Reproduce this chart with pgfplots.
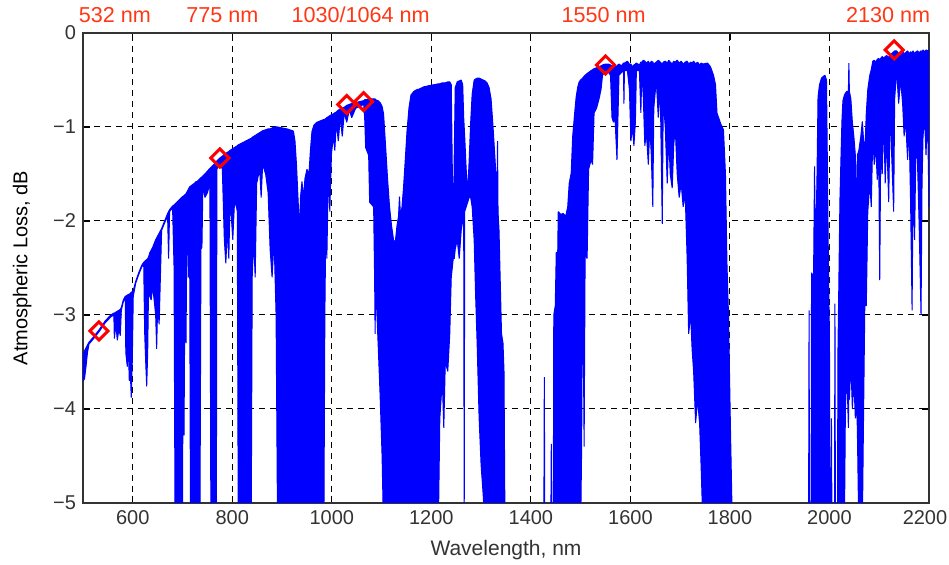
\documentclass[border=0pt]{standalone}
\usepackage{fontspec}
\setmainfont{Liberation Sans}
\usepackage{pgfplots}
\usepackage{pgfplotstable}
\pgfplotsset{compat=1.18}
\usepgfplotslibrary{fillbetween}

\definecolor{specblue}{RGB}{0,0,255}
\definecolor{lblred}{RGB}{255,55,20}
\definecolor{axgray}{RGB}{51,51,51}

% x = wavelength (nm), t = upper edge of the trace, l = lower edge (dB)
\pgfplotstableread{
x t l
500 -3.42 -3.70
503 -3.38 -3.68
506 -3.35 -3.55
509 -3.32 -3.40
512 -3.29 -3.31
520 -3.24 -3.26
532 -3.16 -3.18
545 -3.06 -3.08
556 -3.00 -3.02
562 -2.98 -3.00
563 -2.98 -3.25
566 -2.97 -3.10
569 -2.96 -3.27
572 -2.95 -3.15
575 -2.94 -3.22
577 -2.92 -2.95
581 -2.84 -2.86
585 -2.80 -2.82
586 -2.80 -3.40
589 -2.79 -3.55
591 -2.78 -3.30
593 -2.78 -3.70
595 -2.77 -3.60
597 -2.76 -3.88
599 -2.75 -3.50
601 -2.74 -2.80
606 -2.64 -2.66
612 -2.55 -2.57
618 -2.47 -2.49
622 -2.44 -2.46
624 -2.43 -3.20
626 -2.42 -3.50
628 -2.41 -3.76
630 -2.40 -3.40
632 -2.38 -2.60
634 -2.34 -2.80
637 -2.31 -2.84
640 -2.28 -2.70
643 -2.24 -2.84
646 -2.20 -3.00
648 -2.18 -3.36
650 -2.16 -2.90
653 -2.13 -3.10
656 -2.10 -2.50
658 -2.08 -2.10
664 -2.00 -2.02
670 -1.92 -1.95
672 -1.90 -2.40
674 -1.88 -1.90
680 -1.84 -1.86
683 -1.83 -2.50
685 -1.82 -5.30
700 -1.74 -5.30
701 -1.74 -3.20
703 -1.73 -4.28
705 -1.72 -2.50
707 -1.71 -3.30
709 -1.69 -1.90
712 -1.66 -2.60
714 -1.64 -1.70
716 -1.63 -5.30
726 -1.59 -5.30
727 -1.58 -4.00
729 -1.58 -5.30
735 -1.55 -5.30
737 -1.54 -2.30
739 -1.53 -2.28
741 -1.52 -1.60
745 -1.50 -1.75
750 -1.47 -1.70
755 -1.44 -1.60
757 -1.43 -5.30
768 -1.37 -5.30
769 -1.36 -1.45
775 -1.33 -1.38
780 -1.31 -1.45
784 -1.29 -2.20
787 -1.28 -2.45
790 -1.27 -2.10
793 -1.26 -2.40
795 -1.25 -1.90
798 -1.24 -1.95
801 -1.23 -2.20
804 -1.22 -1.85
807 -1.21 -1.80
810 -1.20 -1.90
812 -1.19 -5.30
838 -1.12 -5.30
840 -1.11 -2.60
843 -1.10 -2.20
846 -1.09 -2.60
849 -1.08 -1.60
855 -1.06 -1.45
858 -1.05 -1.75
861 -1.04 -1.40
867 -1.03 -1.50
872 -1.02 -1.70
876 -1.02 -2.30
880 -1.01 -2.60
884 -1.00 -2.20
888 -1.00 -3.00
891 -1.00 -5.30
910 -1.02 -5.30
921 -1.04 -5.30
922 -1.04 -3.40
923 -1.05 -5.30
926 -1.15 -5.30
929 -1.40 -5.30
932 -1.75 -5.30
935 -2.10 -5.30
937 -1.75 -5.30
940 -1.58 -5.30
943 -1.75 -5.30
946 -1.55 -5.30
950 -1.45 -5.30
954 -1.50 -5.30
957 -1.25 -5.30
960 -1.05 -5.30
964 -0.98 -5.30
970 -0.95 -5.30
984 -0.92 -5.30
986 -0.92 -3.00
988 -0.91 -2.00
990 -0.90 -2.40
993 -0.89 -1.50
996 -0.88 -1.90
999 -0.87 -1.30
1003 -0.86 -1.10
1006 -0.85 -1.25
1009 -0.84 -0.95
1013 -0.82 -1.15
1017 -0.81 -0.90
1021 -0.80 -1.10
1025 -0.79 -0.85
1030 -0.77 -0.95
1035 -0.76 -0.82
1040 -0.75 -0.90
1048 -0.74 -0.80
1056 -0.73 -0.78
1064 -0.72 -0.76
1066 -0.71 -0.90
1068 -0.71 -1.22
1074 -0.71 -1.30
1076 -0.70 -1.80
1084 -0.70 -1.85
1086 -0.70 -2.60
1087 -0.70 -3.20
1088 -0.71 -2.65
1093 -0.72 -3.30
1097 -0.74 -3.85
1101 -0.78 -4.50
1104 -0.86 -5.30
1108 -1.20 -5.30
1112 -1.55 -5.30
1116 -1.85 -5.30
1120 -2.05 -5.30
1124 -2.20 -5.30
1126 -2.22 -5.30
1127 -2.22 -4.00
1128 -2.20 -5.30
1131 -2.05 -5.30
1134 -1.95 -5.30
1136 -1.74 -5.30
1138 -1.95 -5.30
1141 -1.85 -5.30
1144 -1.65 -5.30
1147 -1.40 -5.30
1151 -1.05 -5.30
1155 -0.80 -5.30
1159 -0.66 -5.30
1165 -0.62 -5.30
1172 -0.60 -5.30
1173 -0.60 -3.90
1174 -0.60 -5.30
1186 -0.57 -5.30
1187 -0.57 -3.60
1188 -0.57 -5.30
1195 -0.56 -5.30
1196 -0.56 -3.40
1197 -0.56 -5.30
1205 -0.55 -5.30
1206 -0.55 -3.90
1207 -0.55 -5.30
1214 -0.54 -5.30
1217 -0.54 -4.10
1222 -0.53 -3.70
1225 -0.53 -4.20
1228 -0.53 -3.50
1233 -0.52 -3.60
1237 -0.52 -3.20
1240 -0.55 -2.60
1242 -1.40 -2.50
1244 -2.20 -2.40
1246 -1.30 -2.40
1248 -0.58 -2.30
1252 -0.52 -2.20
1256 -0.51 -2.40
1260 -0.50 -2.10
1263 -0.55 -2.00
1265 -0.90 -2.00
1266 -1.00 -5.30
1267 -1.10 -1.90
1270 -1.45 -1.85
1273 -1.70 -1.80
1276 -1.35 -1.75
1279 -0.95 -1.75
1282 -0.65 -1.85
1286 -0.50 -2.20
1289 -0.49 -2.80
1292 -0.48 -3.30
1296 -0.48 -4.10
1300 -0.49 -4.60
1304 -0.50 -4.90
1308 -0.51 -5.30
1312 -0.53 -5.30
1316 -0.58 -5.30
1320 -0.70 -5.30
1324 -1.00 -5.30
1328 -1.35 -5.30
1332 -1.70 -5.30
1333 -1.15 -5.30
1334 -1.90 -5.30
1336 -2.10 -5.30
1338 -2.55 -5.30
1341 -3.20 -5.30
1344 -3.30 -5.30
1346 -3.60 -5.30
1348 -5.30 -5.30
1426 -5.30 -5.30
1427 -3.66 -5.30
1428 -5.30 -5.30
1440 -5.30 -5.30
1441 -4.37 -5.30
1442 -5.30 -5.30
1445 -5.30 -5.30
1446 -3.00 -5.30
1449 -2.90 -5.30
1451 -2.33 -5.30
1453 -2.70 -5.30
1455 -1.90 -5.30
1460 -1.93 -5.30
1465 -1.92 -5.30
1470 -1.95 -5.30
1474 -1.85 -5.30
1477 -1.60 -5.30
1481 -1.49 -5.30
1484 -1.10 -5.30
1488 -0.85 -5.30
1491 -0.68 -5.30
1494 -0.58 -5.30
1497 -0.52 -5.30
1500 -0.50 -5.30
1502 -0.49 -4.40
1504 -0.48 -2.35
1507 -0.46 -4.40
1509 -0.45 -2.35
1513 -0.43 -2.40
1516 -0.42 -1.45
1521 -0.40 -1.35
1524 -0.39 -1.40
1527 -0.38 -0.85
1532 -0.37 -0.80
1537 -0.36 -0.70
1541 -0.35 -0.60
1544 -0.34 -0.45
1550 -0.33 -0.40
1556 -0.33 -0.42
1560 -0.34 -0.45
1563 -0.35 -0.90
1566 -0.38 -0.95
1569 -0.36 -0.90
1573 -0.35 -1.35
1575 -0.34 -0.90
1577 -0.33 -0.45
1582 -0.35 -0.42
1586 -0.32 -0.40
1587 -0.32 -0.75
1588 -0.32 -0.40
1594 -0.30 -0.40
1598 -0.33 -0.60
1601 -0.33 -1.15
1604 -0.36 -1.00
1607 -0.34 -1.20
1610 -0.33 -0.95
1612 -0.32 -0.40
1618 -0.34 -0.40
1621 -0.31 -0.85
1623 -0.31 -0.40
1626 -0.29 -0.70
1629 -0.30 -1.20
1632 -0.32 -1.05
1636 -0.30 -1.40
1639 -0.33 -1.00
1642 -0.30 -1.30
1645 -0.31 -1.85
1647 -0.33 -0.80
1652 -0.31 -0.50
1656 -0.29 -0.90
1660 -0.31 -0.60
1664 -0.33 -2.03
1666 -0.31 -0.70
1670 -0.30 -1.00
1674 -0.32 -1.60
1677 -0.29 -1.10
1680 -0.31 -1.50
1684 -0.33 -1.65
1687 -0.30 -1.20
1690 -0.31 -1.00
1694 -0.29 -1.50
1698 -0.32 -1.75
1702 -0.30 -1.60
1706 -0.33 -1.85
1710 -0.31 -1.70
1714 -0.30 -2.40
1717 -0.33 -3.20
1721 -0.31 -3.00
1724 -0.32 -3.37
1727 -0.30 -3.60
1731 -0.33 -4.15
1735 -0.31 -3.90
1739 -0.34 -4.15
1742 -0.32 -4.60
1746 -0.33 -5.30
1755 -0.32 -5.30
1761 -0.36 -5.30
1767 -0.45 -5.30
1771 -0.55 -5.30
1774 -0.85 -5.30
1781 -0.96 -5.30
1787 -1.03 -5.30
1791 -1.50 -5.30
1794 -2.45 -5.30
1797 -2.98 -5.30
1801 -4.20 -5.30
1805 -5.30 -5.30
1958 -5.30 -5.30
1959 -2.95 -5.30
1960 -5.30 -5.30
1963 -5.30 -5.30
1964 -2.55 -5.30
1968 -2.60 -5.30
1970 -1.42 -5.30
1972 -2.40 -5.30
1975 -1.50 -5.30
1977 -0.68 -5.30
1980 -0.55 -5.30
1984 -0.48 -5.30
1988 -0.46 -5.30
1991 -0.45 -5.30
1994 -0.50 -5.30
1996 -1.50 -5.30
1998 -2.50 -5.30
2000 -3.30 -5.30
2001 -5.30 -5.30
2003 -5.30 -5.30
2004 -4.10 -5.30
2005 -5.30 -5.30
2010 -5.30 -5.30
2011 -2.88 -5.30
2012 -5.30 -5.30
2016 -5.30 -5.30
2017 -3.40 -5.30
2019 -2.60 -5.30
2021 -1.78 -5.30
2023 -1.35 -5.30
2025 -0.94 -5.30
2027 -0.72 -5.30
2030 -0.66 -5.30
2032 -0.64 -4.00
2035 -0.62 -3.60
2038 -0.62 -4.20
2039 -0.32 -3.80
2040 -0.62 -3.90
2043 -0.70 -3.50
2046 -0.95 -4.00
2049 -1.10 -3.70
2052 -1.30 -4.10
2054 -1.99 -3.90
2056 -1.30 -4.20
2059 -1.25 -5.30
2063 -1.10 -5.30
2066 -0.94 -5.30
2068 -1.10 -4.30
2071 -1.28 -2.90
2074 -0.85 -2.90
2077 -0.60 -1.90
2081 -0.45 -1.60
2084 -0.39 -1.85
2087 -0.30 -1.10
2090 -0.29 -1.40
2093 -0.31 -1.20
2096 -0.28 -1.56
2099 -0.27 -1.30
2101 -0.29 -2.63
2103 -0.27 -1.20
2106 -0.25 -1.50
2109 -0.27 -0.90
2112 -0.25 -1.60
2115 -0.24 -1.10
2119 -0.26 -1.80
2122 -0.23 -0.80
2125 -0.22 -1.30
2129 -0.20 -1.90
2131 -0.19 -0.70
2135 -0.19 -0.40
2139 -0.22 -0.75
2143 -0.20 -0.50
2147 -0.19 -0.75
2150 -0.22 -1.10
2153 -0.21 -0.92
2157 -0.19 -1.35
2160 -0.22 -1.00
2163 -0.20 -1.80
2166 -0.21 -2.95
2168 -0.19 -1.60
2171 -0.22 -2.20
2174 -0.20 -1.10
2177 -0.19 -1.40
2180 -0.21 -2.00
2184 -0.19 -3.00
2186 -0.20 -1.60
2188 -0.18 -1.10
2191 -0.20 -0.90
2194 -0.18 -1.30
2197 -0.19 -0.85
2200 -0.18 -1.85
}\spec

\begin{document}
\begin{tikzpicture}
\begin{axis}[
    scale only axis,
    width=423pt, height=235pt,
    xmin=500, xmax=2200, ymin=-5, ymax=0,
    enlargelimits=false,
    xtick={600,800,...,2200},
    xticklabels={600,800,1000,1200,1400,1600,1800,2000,2200\hspace*{4pt}},
    ytick={-5,-4,...,0},
    yticklabels={−5,−4,−3,−2,−1,0},
    grid=major,
    major grid style={black, line width=0.5pt, dash pattern=on 3pt off 2.5pt},
    tick align=inside,
    major tick length=3.5pt,
    tick style={black, line width=0.6pt},
    axis line style={axgray, line width=0.9pt},
    ticklabel style={font=\fontsize{10}{12}\selectfont, text=axgray},
    xlabel={Wavelength, nm},
    ylabel={Atmospheric Loss, dB},
    label style={font=\fontsize{10.5}{12}\selectfont, text=axgray},
    every axis y label/.style={at={(axis description cs:-0.072,0.5)}, rotate=90, anchor=center},
    xlabel style={yshift=-1pt},
    clip mode=individual,
]
\addplot[name path=T, draw=specblue, line width=0.5pt, line join=bevel] table[x=x, y=t] {\spec};
\addplot[name path=L, draw=specblue, line width=0.5pt, line join=bevel] table[x=x, y=l] {\spec};
\addplot[specblue] fill between[of=T and L];

\addplot[only marks, mark=square, mark size=3.2pt,
    mark options={rotate=45, draw=red, line width=1.5pt, fill=none}]
    coordinates {(532,-3.17) (775,-1.33) (1030,-0.76) (1064,-0.73) (1550,-0.34) (2130,-0.18)};

\begin{scope}[every node/.style={text=lblred, font=\fontsize{10.8}{12}\selectfont, anchor=base}]
\node at (axis cs:564,0.115) {532 nm};
\node at (axis cs:780,0.115) {775 nm};
\node at (axis cs:1058,0.115) {1030/1064 nm};
\node at (axis cs:1546,0.115) {1550 nm};
\node at (axis cs:2118,0.115) {2130 nm};
\end{scope}
\end{axis}
\pgfresetboundingbox
\path (current axis.south west) ++(-41.5pt,-31pt) rectangle ([xshift=10pt,yshift=16.5pt]current axis.north east);
\end{tikzpicture}
\end{document}
